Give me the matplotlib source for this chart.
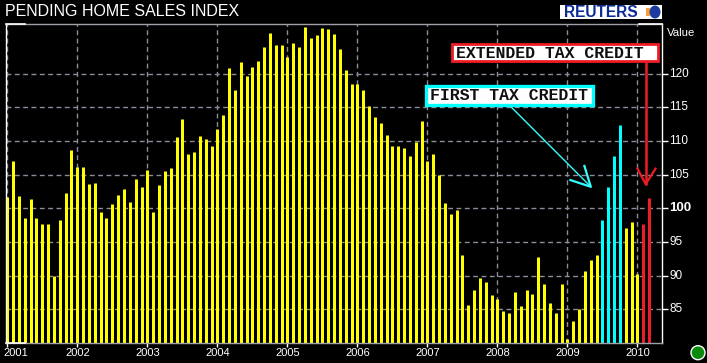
import matplotlib
matplotlib.use("Agg")
import matplotlib.pyplot as plt
from matplotlib.patches import Rectangle, Ellipse

W, H = 707, 363

# index values, Jan 2001 to Mar 2010
values = [
    101.7, 107.1, 101.9, 98.6, 101.4, 98.5, 97.7, 97.6, 89.9, 98.2, 102.3, 108.7,
    106.2, 106.2, 103.6, 103.7, 99.5, 98.6, 100.7, 102.0, 102.9, 101.0, 104.4, 103.2,
    105.7, 99.4, 103.5, 105.6, 106.0, 110.6, 113.3, 108.1, 108.4, 110.8, 110.3, 109.2,
    111.8, 113.9, 120.9, 117.5, 121.8, 119.6, 121.0, 121.9, 124.0, 126.1, 124.2, 124.2,
    122.5, 124.5, 123.9, 127.0, 125.3, 125.8, 126.8, 126.7, 125.9, 123.7, 120.6, 118.4,
    118.4, 117.5, 115.2, 113.5, 112.6, 110.9, 109.3, 109.3, 108.9, 107.7, 109.9, 112.9,
    107.1, 108.0, 104.9, 100.8, 99.1, 99.7, 93.0, 85.7, 87.9, 89.6, 89.0, 87.2,
    86.6, 84.8, 84.4, 87.6, 85.5, 87.9, 87.3, 92.7, 88.7, 86.0, 84.4, 88.7,
    80.6, 83.3, 85.1, 90.7, 92.4, 93.1, 98.2, 103.1, 107.8, 112.4, 97.1, 97.9,
    90.3, 97.7, 101.6,
]
cyan_months = [102, 103, 104, 105]
red_months = [109, 110]
years = [2001, 2002, 2003, 2004, 2005, 2006, 2007, 2008, 2009, 2010]
y_ticks = [85, 90, 95, 100, 105, 110, 115, 120]

colors = []
for i in range(len(values)):
    if i in cyan_months:
        colors.append("#00ffff")
    elif i in red_months:
        colors.append("#ee1c25")
    else:
        colors.append("#ffff00")


def fig_rect(x0, y0, x1, y1, **kw):
    # rectangle given in picture pixels, y from the top
    fig.add_artist(Rectangle((x0 / W, 1 - y1 / H), (x1 - x0) / W, (y1 - y0) / H,
                             transform=fig.transFigure, **kw))


fig = plt.figure(figsize=(W / 100, H / 100), dpi=100, facecolor="black")
plt.rcParams["font.family"] = ["Liberation Sans", "DejaVu Sans"]

# axes box in pixels: left 5.5, right 662, top 23.5, bottom 343
ax = fig.add_axes([5.5 / W, 1 - 343 / H, (662 - 5.5) / W, (343 - 23.5) / H], facecolor="black")
px_month = 5.835
ax.set_xlim(-(7.3 - 5.5) / px_month, (662 - 7.3) / px_month)
ax.set_ylim(80, 127.45)

year_x = [12 * (y - 2001) for y in years]
ax.set_axisbelow(True)
ax.grid(True, color="#8c8c9c", linestyle=(0, (3.5, 2.5)), linewidth=1)
ax.set_xticks(year_x)
ax.set_yticks(y_ticks)
ax.set_xticklabels([])
ax.set_yticklabels([])
ax.yaxis.tick_right()
ax.tick_params(axis="y", length=4, color="white", width=1)
ax.tick_params(axis="x", length=3, color="white", width=1)

# 3 px wide bars, drawn as lines so every one snaps to the same width
ax.vlines(range(len(values)), 80, values, colors=colors, linewidth=3 * 72 / 100,
          capstyle="butt", zorder=3)

for s in ["top", "bottom"]:
    ax.spines[s].set_color("#a0a0a8")
for s in ["left", "right"]:
    ax.spines[s].set_color("white")
for s in ax.spines.values():
    s.set_linewidth(1)
    s.set_zorder(4)
# white stubs on the frame corners
ax.plot([0, 0.03], [1, 1], transform=ax.transAxes, color="white", lw=1.2, clip_on=False, zorder=5)
ax.plot([0, 0.03], [0, 0], transform=ax.transAxes, color="white", lw=1.2, clip_on=False, zorder=5)
ax.plot([0.965, 1], [1, 1], transform=ax.transAxes, color="white", lw=1.2, clip_on=False, zorder=5)

# year labels centred on their gridline, only the first is pushed in from the edge
for y, x in zip(years, year_x):
    shift = 9 if y == 2001 else 0
    ax.annotate(str(y), (x, 80), xytext=(shift, -10), textcoords="offset pixels", ha="center",
                va="center", color="white", fontsize=8, annotation_clip=False)

# value labels on the right
for t in y_ticks:
    ax.annotate(str(t), (1, t), xycoords=("axes fraction", "data"), xytext=(7, 0),
                textcoords="offset pixels", va="center", color="white",
                fontsize=9.5 if t == 100 else 8.5, fontweight="bold" if t == 100 else "normal",
                annotation_clip=False)
fig.text(667 / W, 1 - 33 / H, "Value", color="white", fontsize=8.2, va="center")

fig.text(5 / W, 1 - 11 / H, "PENDING HOME SALES INDEX", color="white", fontsize=11.5, va="center")

# callout arrows
ax.plot([85.6, 100.0], [115.7, 103.2], color="#33ffff", lw=1, zorder=5)
ax.plot([96.5, 100.0, 98.9], [104.2, 103.2, 106.3], color="#33ffff", lw=1.6, zorder=5)
ax.plot([109.4, 109.4], [122.2, 103.6], color="#ee1c25", lw=1.8, zorder=5)
ax.plot([108.0, 109.4, 111.1], [105.9, 103.6, 105.9], color="#ee1c25", lw=1.6, zorder=5)

box_font = dict(family=["Liberation Mono", "DejaVu Sans Mono"], fontsize=11.9, color="#101010",
                va="center", ha="left", fontweight="bold", zorder=11)
fig_rect(452, 44, 658, 61, fc="white", ec="#ee1c25", lw=2, zorder=10)
fig.text(456 / W, 1 - 53 / H, "EXTENDED TAX CREDIT", **box_font)
fig_rect(426, 86, 593, 105, fc="white", ec="#00ffff", lw=2.4, zorder=10)
fig.text(430 / W, 1 - 96 / H, "FIRST TAX CREDIT", **box_font)

# Reuters logo and status light
fig_rect(560, 5, 662, 19, fc="white", ec="none")
fig.text(564 / W, 1 - 12.3 / H, "REUTERS", color="#0a2a96", fontsize=11.2, fontweight="bold", va="center")
fig_rect(646, 8, 650, 16, fc="#f5a040", ec="none")
fig.add_artist(Ellipse((655 / W, 1 - 12 / H), 11 / W, 13 / H, transform=fig.transFigure, fc="#1f3a9e", ec="none"))
fig.add_artist(Ellipse((698 / W, 1 - 352.7 / H), 14 / W, 14 / H, transform=fig.transFigure,
                       fc="#0a8a0a", ec="white", lw=1))

fig.savefig("out.png", dpi=100, facecolor="black")
